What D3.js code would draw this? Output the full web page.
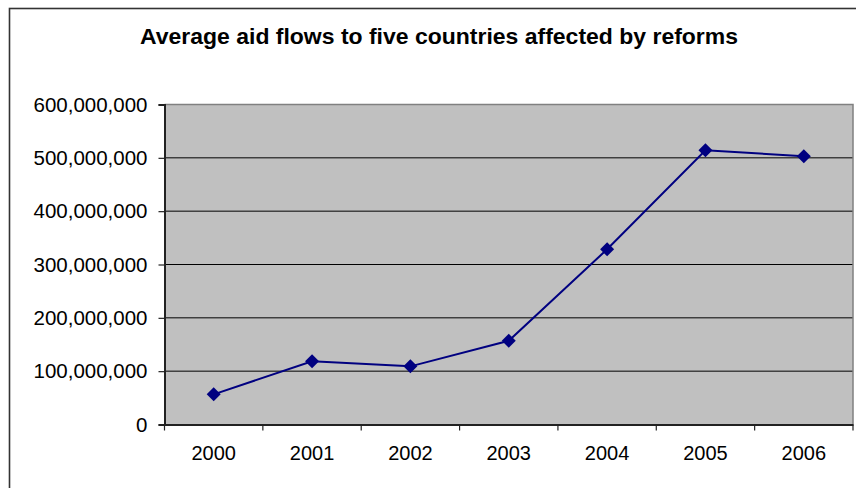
<!DOCTYPE html>
<html>
<head>
<meta charset="utf-8">
<script src="https://cdn.jsdelivr.net/npm/d3@7"></script>
<style>
  html, body { margin: 0; padding: 0; background: #fff; }
  svg { display: block; }
  text { font-family: "Liberation Sans", Arial, sans-serif; fill: #000; }
</style>
</head>
<body>
<svg id="chart" width="856" height="488"></svg>
<script>
// Average aid flows (USD) per year
const years = ["2000", "2001", "2002", "2003", "2004", "2005", "2006"];
const aidFlows = [56500000, 118500000, 109000000, 157000000, 328500000, 514000000, 503000000];
const yTicks = [0, 100000000, 200000000, 300000000, 400000000, 500000000, 600000000];
const titleText = "Average aid flows to five countries affected by reforms";

const svg = d3.select("#chart");

// Plot area bounds
const plot = { left: 164.5, right: 853, top: 104.5, bottom: 424.5 };

// Outer chart frame (runs past the right and bottom edges)
svg.append("rect")
  .attr("x", 9.5).attr("y", 8.5)
  .attr("width", 870).attr("height", 500)
  .attr("fill", "#fff")
  .attr("stroke", "#333").attr("stroke-width", 1.6);

// Title
svg.append("text")
  .attr("x", 439).attr("y", 44)
  .attr("text-anchor", "middle")
  .attr("font-size", 22).attr("font-weight", "bold")
  .attr("textLength", 598).attr("lengthAdjust", "spacingAndGlyphs")
  .text(titleText);

const x = d3.scaleBand().domain(years).range([plot.left, plot.right]).padding(0);
const y = d3.scaleLinear().domain([0, 600000000]).range([plot.bottom, plot.top]);

// Plot area background
svg.append("rect")
  .attr("x", plot.left).attr("y", plot.top)
  .attr("width", plot.right - plot.left).attr("height", plot.bottom - plot.top)
  .attr("fill", "#c0c0c0");

// Horizontal gridlines
svg.append("g")
  .selectAll("line")
  .data(yTicks.filter(d => d > 0 && d < 600000000))
  .join("line")
  .attr("x1", plot.left).attr("x2", plot.right)
  .attr("y1", d => y(d)).attr("y2", d => y(d))
  .attr("stroke", "#000").attr("stroke-width", 1);

// Plot area top and right border
svg.append("path")
  .attr("d", `M${plot.left},${plot.top}H${plot.right}V${plot.bottom}`)
  .attr("fill", "none").attr("stroke", "#808080").attr("stroke-width", 1.5);

// Y axis
const fmt = d3.format(",");
const yAxis = d3.axisLeft(y).tickValues(yTicks).tickFormat(d => fmt(d)).tickSize(6).tickPadding(11);
const gy = svg.append("g").attr("transform", `translate(${plot.left},0)`).call(yAxis);
gy.select(".domain").attr("stroke", "#222").attr("stroke-width", 2);
gy.selectAll(".tick line").attr("stroke", "#222").attr("stroke-width", 1.2);
gy.selectAll(".tick text")
  .attr("font-size", 20.5).attr("font-family", "Liberation Sans, Arial, sans-serif").attr("fill", "#000");

// X axis: ticks on category boundaries, labels centered in categories
const xAxis = d3.axisBottom(x).tickSize(0).tickPadding(21);
const gx = svg.append("g").attr("transform", `translate(0,${plot.bottom})`).call(xAxis);
gx.select(".domain").attr("stroke", "#222").attr("stroke-width", 2);
gx.selectAll(".tick text")
  .attr("font-size", 20).attr("font-family", "Liberation Sans, Arial, sans-serif").attr("fill", "#000");
const boundaries = years.map(d => x(d)).concat([x(years[years.length - 1]) + x.bandwidth()]);
svg.append("g").selectAll("line")
  .data(boundaries)
  .join("line")
  .attr("x1", d => d).attr("x2", d => d)
  .attr("y1", plot.bottom).attr("y2", plot.bottom + 6)
  .attr("stroke", "#222").attr("stroke-width", 1.2);

// Series line
const cx = d => x(d) + x.bandwidth() / 2;
const line = d3.line().x((d, i) => cx(years[i])).y(d => y(d));
svg.append("path")
  .datum(aidFlows)
  .attr("d", line)
  .attr("fill", "none")
  .attr("stroke", "#000080").attr("stroke-width", 2);

// Diamond markers
const r = 7;
svg.append("g").selectAll("path")
  .data(aidFlows)
  .join("path")
  .attr("transform", (d, i) => `translate(${cx(years[i])},${y(d)})`)
  .attr("d", `M0,${-r}L${r},0L0,${r}L${-r},0Z`)
  .attr("fill", "#000080");
</script>
</body>
</html>
